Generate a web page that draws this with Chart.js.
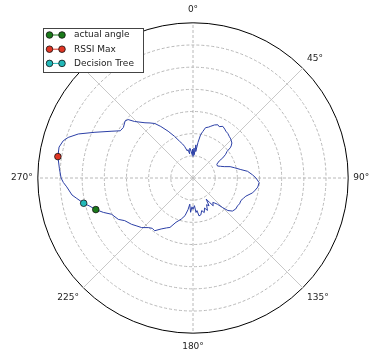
<!DOCTYPE html>
<html>
<head>
<meta charset="utf-8">
<title>RSSI polar plot</title>
<script src="https://cdn.jsdelivr.net/npm/chart.js@4.4.1/dist/chart.umd.min.js"></script>
<style>
  html, body { margin: 0; padding: 0; background: #fff; }
  canvas { display: block; }
</style>
</head>
<body>
<canvas id="polarChart" width="379" height="357"></canvas>
<script>
// signal strength sweep, bearing in degrees clockwise from 0°
const traceAngles = [
  0, 2, 3, 5, 6, 8, 10, 12, 14, 17, 19, 22, 25, 27, 30, 33, 35, 38, 41, 44,
  48, 50, 51, 52, 54, 56, 57, 60, 64, 67, 70, 73, 76, 80, 83, 87, 90, 94, 98, 101,
  104, 109, 112, 115, 119, 122, 126, 130, 133, 135, 137, 139, 141, 144, 146, 148, 150, 153, 156, 159,
  162, 165, 168, 171, 173, 175, 177, 180, 182, 184, 187, 189, 192, 196, 201, 205, 208, 212, 216, 219,
  222, 226, 230, 233, 238, 241, 246, 249, 252, 255, 257, 260, 262, 266, 268, 270, 274, 279, 283, 286,
  288, 291, 295, 300, 303, 306, 310, 312, 314, 319, 322, 325, 328, 332, 336, 340, 343, 345, 348, 350,
  352, 354, 356, 358, 359
];
const traceRssi = [
  9.7, 13.5, 10.5, 15, 12, 16.2, 19.9, 21.5, 23.4, 24, 24.7, 25.8, 26.5, 26, 26.9, 26.3, 25.8, 25.5, 24.9, 24.5,
  23.6, 22.5, 21.6, 19.5, 18.2, 16.2, 14.1, 12.4, 12.3, 13.5, 15, 17.5, 19.2, 21.9, 24.8, 26.9, 28.4, 29.9, 29.5, 28.6,
  27.7, 25.2, 24.5, 23.9, 24, 23.7, 23.8, 23.2, 21.5, 18.9, 16.2, 15, 14.2, 15.5, 13.2, 11.2, 14.5, 13.5, 16, 14.5,
  16.4, 15.2, 17, 17.3, 14.8, 15.6, 12.5, 14.1, 13, 15.5, 11.9, 14.5, 17.4, 19.3, 21.4, 24.6, 25.5, 27.1, 29.4, 29.2,
  30.1, 32.2, 33.5, 34.7, 36.3, 38.5, 40.2, 43.3, 46.1, 48.5, 50.6, 53.2, 55.1, 57.1, 58.5, 59.5, 60.4, 61.7, 62, 60.9,
  59.2, 55.4, 48.8, 42.2, 39.1, 38.8, 40, 39.4, 36.7, 33, 31.5, 30, 27.4, 23.9, 20.6, 17.6, 16, 14.8, 12.5, 13,
  11, 13.5, 12.1, 10.5, 13
];

// bearing estimates shown as single markers
const markerNames = ['actual angle', 'RSSI Max', 'Decision Tree'];
const markerAngles = [252, 279, 257];
const markerRssi = [46.1, 61.7, 50.6];
const markerColors = ['#1a7a1a', '#e03524', '#22b8b8'];

// one category per degree, only every 45th gets a label
const angleLabels = Array.from({ length: 360 }, (_, d) => d + '°');

function toSeries(angles, values) {
  const out = new Array(360).fill(null);
  angles.forEach((a, i) => { out[a % 360] = values[i]; });
  return out;
}

// framed legend in the top left corner, each entry drawn as o-o
const boxLegend = {
  id: 'boxLegend',
  afterDraw(chart) {
    const ctx = chart.ctx;
    const items = chart.data.datasets.filter(ds => ds.inLegend);
    const x = 43.5, y = 28.5, w = 100, h = 44;
    ctx.save();
    ctx.fillStyle = '#fff';
    ctx.fillRect(x, y, w, h);
    ctx.strokeStyle = '#444';
    ctx.lineWidth = 1;
    ctx.strokeRect(x, y, w, h);
    ctx.font = '9px "DejaVu Sans"';
    ctx.textBaseline = 'middle';
    items.forEach((ds, i) => {
      const cy = 35 + i * 14.2;
      ctx.strokeStyle = ds.pointBackgroundColor;
      ctx.lineWidth = 1;
      ctx.beginPath();
      ctx.moveTo(49.5, cy);
      ctx.lineTo(62, cy);
      ctx.stroke();
      [49.5, 62].forEach(cx => {
        ctx.beginPath();
        ctx.arc(cx, cy, 3.3, 0, Math.PI * 2);
        ctx.fillStyle = ds.pointBackgroundColor;
        ctx.fill();
        ctx.lineWidth = 0.8;
        ctx.strokeStyle = '#111';
        ctx.stroke();
      });
      ctx.fillStyle = '#222';
      ctx.fillText(ds.label, 74, cy);
    });
    ctx.restore();
  }
};

const datasets = [{
  label: 'RSSI',
  data: toSeries(traceAngles, traceRssi),
  borderColor: '#2b3fa6',
  borderWidth: 1,
  pointRadius: 0,
  fill: false,
  spanGaps: true,
  tension: 0,
  order: 2
}];

markerNames.forEach((name, i) => {
  datasets.push({
    label: name,
    inLegend: true,
    data: toSeries([markerAngles[i]], [markerRssi[i]]),
    showLine: false,
    pointRadius: 3.3,
    pointBorderWidth: 0.8,
    pointBorderColor: '#111',
    pointBackgroundColor: markerColors[i],
    order: 0
  });
});

Chart.defaults.font.family = '"DejaVu Sans", sans-serif';
Chart.defaults.font.size = 9;
Chart.defaults.color = '#222';

new Chart(document.getElementById('polarChart').getContext('2d'), {
  type: 'radar',
  data: {
    labels: angleLabels,
    datasets: datasets
  },
  options: {
    responsive: false,
    animation: false,
    events: [],
    layout: {
      padding: { left: 5, right: 3, top: 4, bottom: 4 }
    },
    scales: {
      r: {
        min: 0,
        max: 70,
        ticks: { stepSize: 10, display: false },
        grid: {
          circular: true,
          color: ctx => ctx.tick && ctx.tick.value === 70 ? '#000' : '#b8b8b8',
          lineWidth: 1
        },
        border: {
          dash: ctx => ctx.tick && ctx.tick.value === 70 ? [] : [3, 2]
        },
        // dashed spokes on the axes, plain light ones on the diagonals
        angleLines: {
          color: ctx => ctx.index % 90 === 0 ? '#b8b8b8' : '#c8c8c8',
          lineWidth: ctx => ctx.index % 45 === 0 ? 1 : 0,
          borderDash: ctx => ctx.index % 90 === 0 ? [3, 2] : []
        },
        pointLabels: {
          callback: (label, index) => index % 45 === 0 ? label : '',
          padding: ctx => {
            if (ctx.index % 180 === 0) return 8;
            if (ctx.index % 90 === 0) return 5;
            return 6;
          },
          font: { size: 9 },
          color: '#222'
        }
      }
    },
    plugins: {
      legend: { display: false },
      tooltip: { enabled: false }
    }
  },
  plugins: [boxLegend]
});
</script>
</body>
</html>
